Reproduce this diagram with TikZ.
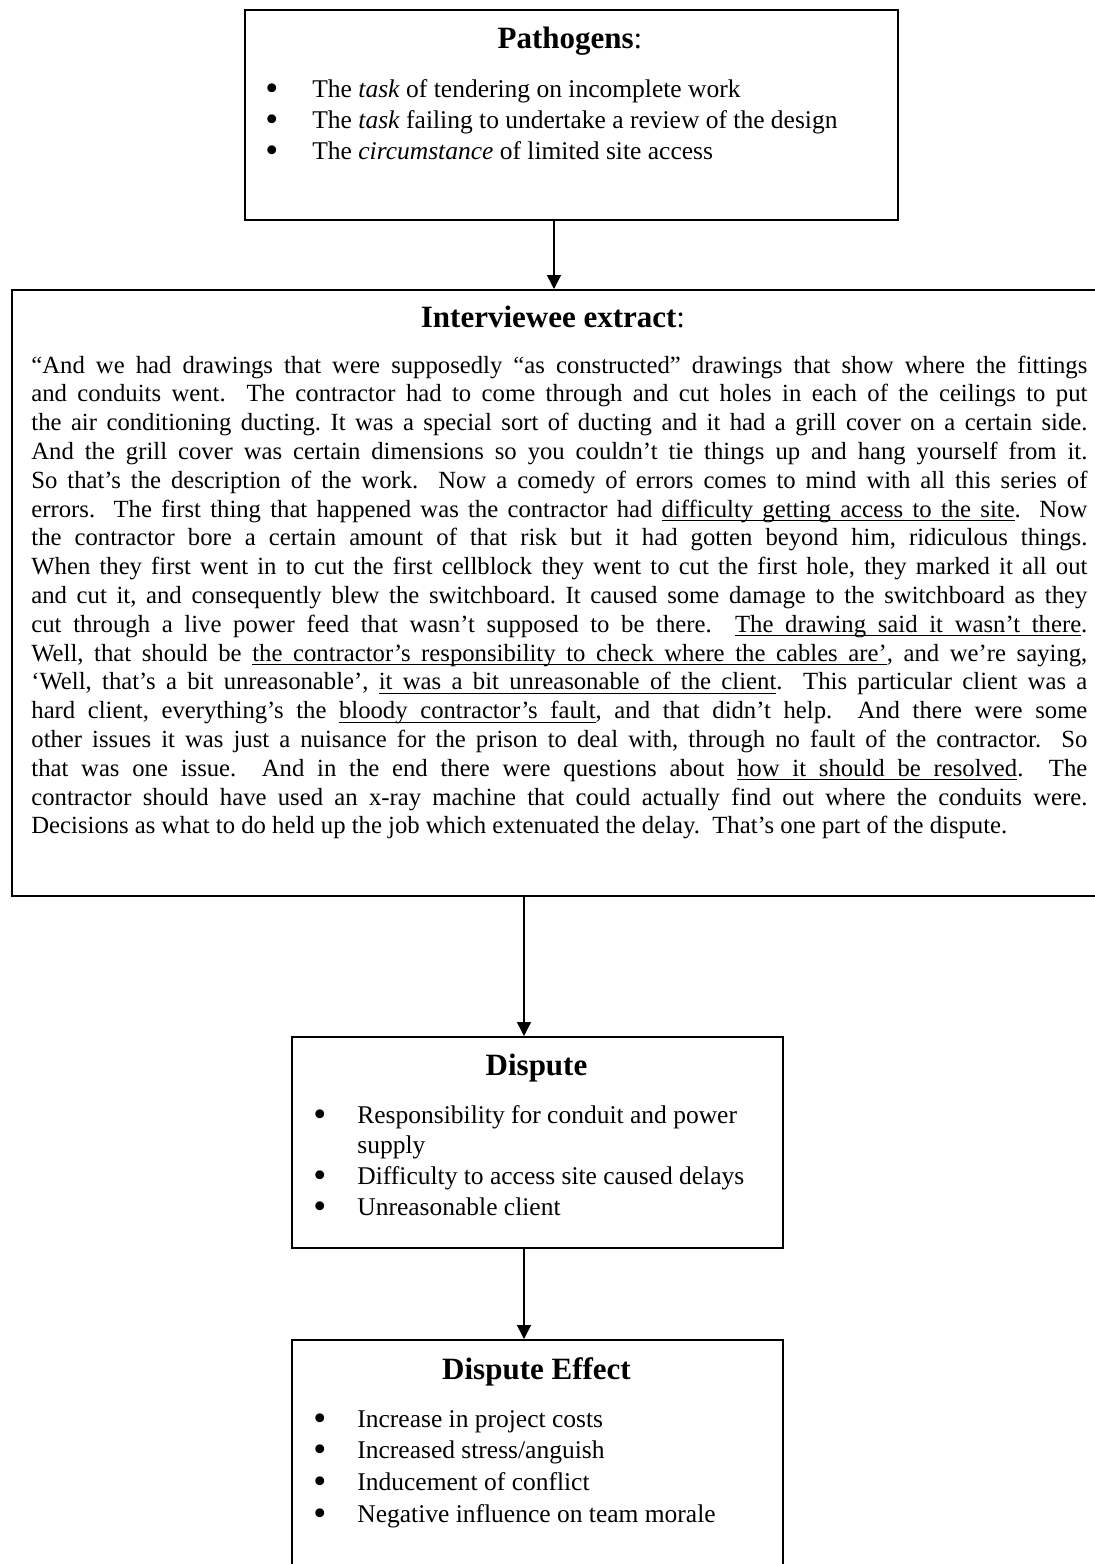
\documentclass[tikz,border=0pt]{standalone}
\usepackage{fontspec}
\setmainfont{Liberation Serif}
\usetikzlibrary{arrows.meta}
\frenchspacing
\newlength\parw
\setlength\parw{528pt}
\newcommand\jl[1]{{\spaceskip=.25em plus .6em minus .06em\xspaceskip=0pt\hbox to\parw{#1}}}
\newcommand\jlast[1]{{\spaceskip=.25em plus .6em minus .06em\xspaceskip=0pt\hbox to\parw{#1\hfil}}}
\newcommand\uword[1]{{\setbox0\hbox{#1}\rlap{\rule[-2.1pt]{\wd0}{0.6pt}}\box0}}
\newcommand\ulsp{\leaders\hrule height -1.5pt depth 2.1pt\hskip .25em plus .6em minus .06em}
\def\myul#1{\ulA#1 \ulend}
\def\ulA#1 #2\ulend{\uword{#1}\ifx\relax#2\relax\else\ulsp\ulA#2\ulend\fi}
\newcommand\bul{\smash{\raisebox{-1.6pt}{\scalebox{1.45}{\textbullet}}}}
\begin{document}
\begin{tikzpicture}[x=0.5pt,y=-0.5pt,
  box/.style={draw,line width=1pt,inner sep=0pt,anchor=north west},
  arr/.style={line width=0.75pt,-{Triangle[length=7pt,width=7pt]}},
  ttl/.style={inner sep=0pt,anchor=base,font=\fontsize{15.5}{18}\selectfont\bfseries},
  lst/.style={inner sep=0pt,anchor=base west,align=left}]
\useasboundingbox (0,0) rectangle (1095,1564);
\clip (0,0) rectangle (1095,1564);
% boxes
\node[box,minimum width=326.5pt,minimum height=105pt] (path) at (244,9) {};
\node[box,minimum width=549.5pt,minimum height=303pt] (interv) at (11,289) {};
\node[box,minimum width=245.5pt,minimum height=105.5pt] (disp) at (291,1036) {};
\node[box,minimum width=245.5pt,minimum height=135pt] (eff) at (291,1339) {};
% titles
\node[ttl] (pathT) at (570,48) {Pathogens\mdseries:};
\node[ttl] (intT) at (553,327) {Interviewee extract\mdseries:};
\node[ttl] (dispT) at (536.5,1075) {Dispute};
\node[ttl] (effT) at (536.5,1379) {Dispute Effect};
% lists
\node[lst] (pathL) at (265,97) {\fontsize{12.75}{15.5}\selectfont
  \begin{tabular}[t]{@{}p{23.5pt}@{}l@{}}
  \bul & The \textit{task} of tendering on incomplete work\\
  \bul & The \textit{task} failing to undertake a review of the design\\
  \bul & The \textit{circumstance} of limited site access
  \end{tabular}};
\node[lst] (dispL) at (313,1123) {\fontsize{12.75}{15.4}\selectfont
  \begin{tabular}[t]{@{}p{22pt}@{}l@{}}
  \bul & Responsibility for conduit and power\\
   & supply\\
  \bul & Difficulty to access site caused delays\\
  \bul & Unreasonable client
  \end{tabular}};
\node[lst] (effL) at (313,1427) {\fontsize{12.75}{15.85}\selectfont
  \begin{tabular}[t]{@{}p{22pt}@{}l@{}}
  \bul & Increase in project costs\\
  \bul & Increased stress/anguish\\
  \bul & Inducement of conflict\\
  \bul & Negative influence on team morale
  \end{tabular}};
% paragraph
\node[inner sep=0pt,anchor=base west,text width=528pt,font=\fontsize{12.35}{14.4}\selectfont] (para) at (31,373) {%
\jl{“And we had drawings that were supposedly “as constructed” drawings that show where the fittings}
\jl{and conduits went.\ \ The contractor had to come through and cut holes in each of the ceilings to put}
\jl{the air conditioning ducting. It was a special sort of ducting and it had a grill cover on a certain side.}
\jl{And the grill cover was certain dimensions so you couldn’t tie things up and hang yourself from it.}
\jl{So that’s the description of the work.\ \ Now a comedy of errors comes to mind with all this series of}
\jl{errors.\ \ The first thing that happened was the contractor had \myul{difficulty getting access to the site}.\ \ Now}
\jl{the contractor bore a certain amount of that risk but it had gotten beyond him, ridiculous things.}
\jl{When they first went in to cut the first cellblock they went to cut the first hole, they marked it all out}
\jl{and cut it, and consequently blew the switchboard. It caused some damage to the switchboard as they}
\jl{cut through a live power feed that wasn’t supposed to be there.\ \ \myul{The drawing said it wasn’t there}.}
\jl{Well, that should be \myul{the contractor’s responsibility to check where the cables are’}, and we’re saying,}
\jl{‘Well, that’s a bit unreasonable’, \myul{it was a bit unreasonable of the client}.\ \ This particular client was a}
\jl{hard client, everything’s the \myul{bloody contractor’s fault}, and that didn’t help.\ \ And there were some}
\jl{other issues it was just a nuisance for the prison to deal with, through no fault of the contractor.\ \ So}
\jl{that was one issue.\ \ And in the end there were questions about \myul{how it should be resolved}.\ \ The}
\jl{contractor should have used an x-ray machine that could actually find out where the conduits were.}
\jlast{Decisions as what to do held up the job which extenuated the delay.\ \ That’s one part of the dispute.}%
};
% connectors
\coordinate (a1) at (554,0);
\coordinate (a2) at (524,0);
\draw[arr] (path.south -| a1) -- (interv.north -| a1);
\draw[arr] (interv.south -| a2) -- (disp.north -| a2);
\draw[arr] (disp.south -| a2) -- (eff.north -| a2);
\end{tikzpicture}
\end{document}
